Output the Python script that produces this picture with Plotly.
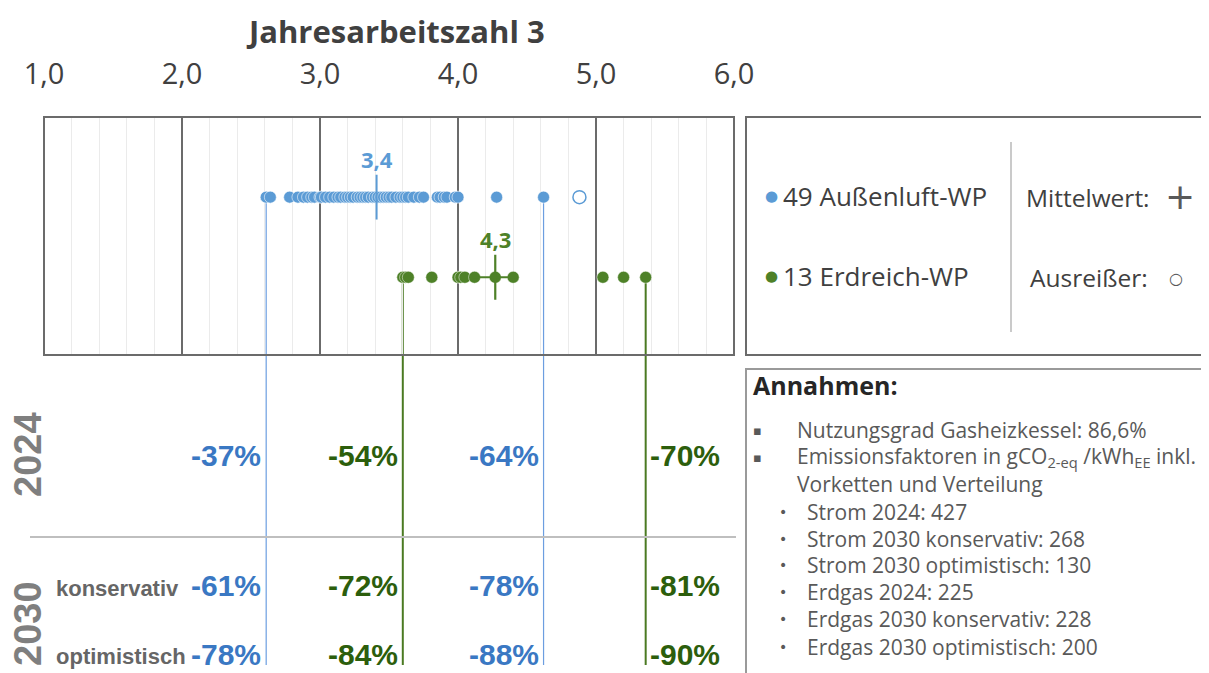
import plotly.graph_objects as go

OFF = 8  # page body margin of the browser
W, H = 1209 - OFF, 673 - OFF


def PX(x):
    return (x - OFF) / W


def PY(y):
    return 1 - (y - OFF) / H


# ---------------- data ----------------
axis_ticks = [1.0, 2.0, 3.0, 4.0, 5.0, 6.0]

air_jaz = [2.61, 2.64, 2.78, 2.84, 2.88, 2.91, 2.94, 2.96, 3.00, 3.01, 3.04, 3.07,
           3.10, 3.13, 3.15, 3.18, 3.20, 3.22, 3.24, 3.27, 3.29, 3.31, 3.33, 3.35,
           3.38, 3.40, 3.42, 3.44, 3.46, 3.48, 3.50, 3.52, 3.55, 3.58, 3.60, 3.62,
           3.64, 3.68, 3.72, 3.75, 3.85, 3.87, 3.90, 3.92, 3.98, 4.00, 4.28, 4.62]
air_outlier = [4.88]
air_mean = 3.41

ground_jaz = [3.60, 3.62, 3.64, 3.81, 4.00, 4.02, 4.05, 4.12, 4.27, 4.40, 5.05, 5.20, 5.36]
ground_mean = 4.27

series_names = ["Außenluft-WP", "Erdreich-WP"]
row_labels = ["2024", "2030"]
scenario_labels = ["konservativ", "optimistisch"]

red_2024 = [-37, -54, -64, -70]
red_2030_kons = [-61, -72, -78, -81]
red_2030_opt = [-78, -84, -88, -90]

annahmen_main = ["Nutzungsgrad Gasheizkessel: 86,6%",
                 "Emissionsfaktoren in gCO<sub>2-eq</sub> /kWh<sub>EE</sub> inkl.",
                 "Vorketten und Verteilung"]
annahmen_sub = ["Strom 2024: 427", "Strom 2030 konservativ: 268",
                "Strom 2030 optimistisch: 130", "Erdgas 2024: 225",
                "Erdgas 2030 konservativ: 228", "Erdgas 2030 optimistisch: 200"]

# ---------------- style ----------------
BLUE = "#5B9BD5"
BLUE_TXT = "#3A78C3"
BLUE_LINE = "#6C9EE0"
GREEN = "#4E8128"
GREEN_TXT = "#2C5E0C"
GREEN_LINE = "#4B7A22"
DARK = "#404040"
GRAY = "#595959"
SANS = "Open Sans, Noto Sans, sans-serif"
ARIAL = "Liberation Sans, Arial, sans-serif"

Y_AIR, Y_GROUND = 2, 1

fig = go.Figure()

fig.add_trace(go.Scatter(
    x=air_jaz, y=[Y_AIR] * len(air_jaz), mode="markers",
    marker=dict(size=12, color=BLUE, line=dict(width=0.8, color="rgba(255,255,255,0.7)")),
    showlegend=False, hoverinfo="x"))
fig.add_trace(go.Scatter(
    x=air_outlier, y=[Y_AIR] * len(air_outlier), mode="markers",
    marker=dict(size=13, symbol="circle-open", color=BLUE, line=dict(width=1.5)),
    showlegend=False, hoverinfo="x"))
fig.add_trace(go.Scatter(
    x=ground_jaz, y=[Y_GROUND] * len(ground_jaz), mode="markers",
    marker=dict(size=12, color=GREEN, line=dict(width=0.8, color="rgba(255,255,255,0.6)")),
    showlegend=False, hoverinfo="x"))
# means
fig.add_trace(go.Scatter(
    x=[air_mean], y=[Y_AIR], mode="markers",
    marker=dict(size=32, symbol="line-ns-open", color=BLUE, line=dict(width=2, color=BLUE)),
    showlegend=False, hoverinfo="x"))
fig.add_trace(go.Scatter(
    x=[ground_mean], y=[Y_GROUND], mode="markers",
    marker=dict(size=32, symbol="cross-thin-open", color=GREEN, line=dict(width=2.2, color=GREEN)),
    showlegend=False, hoverinfo="x"))

shapes = []
annotations = []


def note(x, y, text, size, color, family=SANS, xanchor="center", yanchor="middle",
         xref="paper", **kw):
    d = dict(x=x, y=y, xref=xref, yref="paper", text=text, showarrow=False,
             xanchor=xanchor, yanchor=yanchor,
             font=dict(size=size, color=color, family=family))
    d.update(kw)
    annotations.append(d)


# mean labels
note(air_mean, PY(159), "<b>" + f"{air_mean:.1f}".replace(".", ",") + "</b>", 22, BLUE, xref="x")
note(ground_mean, PY(239), "<b>" + f"{ground_mean:.1f}".replace(".", ",") + "</b>", 22, GREEN, xref="x")

# min/max drop lines
y_row_air, y_row_ground = 197, 277
drop = [
    (min(air_jaz), y_row_air, BLUE_LINE, 1.2),
    (min(ground_jaz), y_row_ground, GREEN_LINE, 2),
    (max(air_jaz), y_row_air, BLUE_LINE, 1.2),
    (max(ground_jaz), y_row_ground, GREEN_LINE, 2),
]
for xv, ytop, col, wdt in drop:
    shapes.append(dict(type="line", xref="x", yref="paper", x0=xv, x1=xv,
                       y0=PY(ytop), y1=PY(665), line=dict(color=col, width=wdt), layer="below"))

# percentage labels
rows = [(red_2024, 455), (red_2030_kons, 585), (red_2030_opt, 654)]
cols = [(min(air_jaz), BLUE_TXT, "right", -3),
        (min(ground_jaz), GREEN_TXT, "right", -3),
        (max(air_jaz), BLUE_TXT, "right", -3),
        (max(ground_jaz), GREEN_TXT, "left", 2)]
for vals, yy in rows:
    for v, (xv, col, anc, sh) in zip(vals, cols):
        note(xv, PY(yy), f"<b>{v}%</b>", 30, col, family=ARIAL, xanchor=anc, xref="x", xshift=sh)

# row labels
note(PX(28), PY(455), "<b>" + row_labels[0] + "</b>", 38, "#7F7F7F", family=ARIAL, textangle=-90)
note(PX(28), PY(624), "<b>" + row_labels[1] + "</b>", 38, "#7F7F7F", family=ARIAL, textangle=-90)
note(PX(54), PY(588), "<b>" + scenario_labels[0] + "</b>", 22, "#666666", family=ARIAL, xanchor="left")
note(PX(54), PY(656), "<b>" + scenario_labels[1] + "</b>", 22, "#666666", family=ARIAL, xanchor="left")

# title
note(PX(395), PY(31), "<b>Jahresarbeitszahl 3</b>", 31, DARK)

# legend box contents
n_air = len(air_jaz) + len(air_outlier)
n_ground = len(ground_jaz)
note(PX(771), PY(196), "●", 15, BLUE, family="DejaVu Sans")
note(PX(781), PY(196), f"{n_air} {series_names[0]}", 26, DARK, xanchor="left")
note(PX(771), PY(276), "●", 15, GREEN, family="DejaVu Sans")
note(PX(781), PY(276), f"{n_ground} {series_names[1]}", 26, DARK, xanchor="left")
note(PX(1024), PY(197), "Mittelwert:", 24.5, DARK, xanchor="left")
note(PX(1180), PY(196), "+", 36, GRAY, family="DejaVu Sans")
note(PX(1028), PY(277), "Ausreißer:", 24.5, DARK, xanchor="left")
note(PX(1176), PY(278), "○", 16, GRAY, family="DejaVu Sans")

# Annahmen box
note(PX(751), PY(385), "<b>Annahmen:</b>", 25, "#262626", xanchor="left")
main_y = [430, 457, 484]
for i, (t, yy) in enumerate(zip(annahmen_main, main_y)):
    if i < 2:
        note(PX(757), PY(yy), "▪", 13, GRAY, family="DejaVu Sans")
    note(PX(795), PY(yy), t, 21, GRAY, xanchor="left")
sub_y = [512, 539, 565, 592, 619, 647]
for t, yy in zip(annahmen_sub, sub_y):
    note(PX(783), PY(yy), "•", 14, GRAY, family="DejaVu Sans")
    note(PX(805), PY(yy), t, 21, GRAY, xanchor="left")

# frames
shapes += [
    dict(type="rect", xref="paper", yref="paper", x0=PX(44), x1=PX(734), y0=PY(355), y1=PY(117),
         line=dict(color="#6B6B6B", width=2)),
    dict(type="rect", xref="paper", yref="paper", x0=PX(746), x1=PX(1225), y0=PY(355), y1=PY(117),
         line=dict(color="#6B6B6B", width=2)),
    dict(type="line", xref="paper", yref="paper", x0=PX(1011), x1=PX(1011), y0=PY(142), y1=PY(332),
         line=dict(color="#B8B8B8", width=1.5)),
    dict(type="rect", xref="paper", yref="paper", x0=PX(746), x1=PX(1225), y0=PY(690), y1=PY(369),
         line=dict(color="#9A9A9A", width=2)),
    dict(type="line", xref="paper", yref="paper", x0=PX(30), x1=PX(736), y0=PY(537), y1=PY(537),
         line=dict(color="#BFBFBF", width=2)),
]

fig.update_layout(
    width=W, height=H, margin=dict(l=0, r=0, t=0, b=0, autoexpand=False),
    paper_bgcolor="white", plot_bgcolor="white",
    separators=",.",
    shapes=shapes, annotations=annotations,
    xaxis=dict(domain=[PX(44), PX(734)], range=[1, 6], tickvals=axis_ticks, tickformat=".1f",
               side="top", anchor="free", position=PY(90), ticks="", showline=False,
               automargin=False,
               zeroline=False, showgrid=True, gridcolor="#6B6B6B", gridwidth=1.5,
               minor=dict(dtick=0.2, showgrid=True, gridcolor="#EBEBEB", gridwidth=1),
               tickfont=dict(size=29, color=DARK, family=SANS)),
    yaxis=dict(domain=[PY(355), PY(117)], range=[0.03, 3.0], visible=False, showgrid=False,
               zeroline=False, automargin=False),
    showlegend=False,
)

fig.write_html("out.html")
